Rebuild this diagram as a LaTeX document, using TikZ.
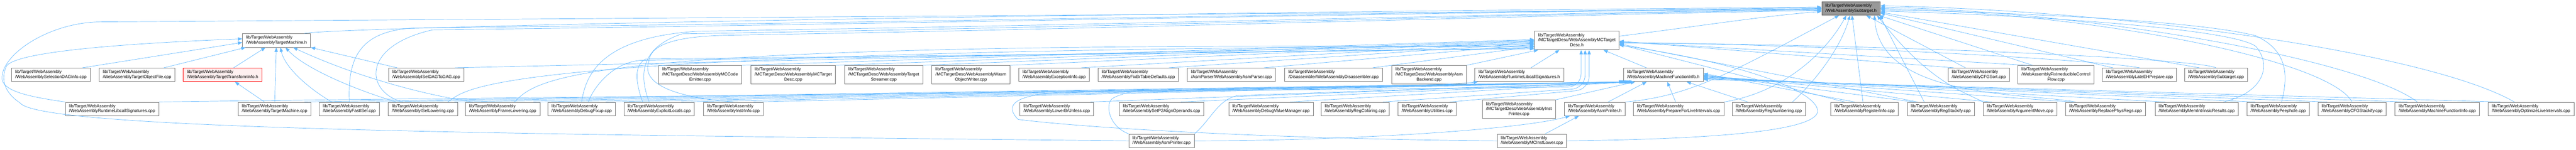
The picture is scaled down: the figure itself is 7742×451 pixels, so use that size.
\documentclass[tikz,border=0pt]{standalone}
\usepackage{fontspec}
\setmainfont{Liberation Sans}
\usepackage{tikz}
\usetikzlibrary{arrows.meta}
\definecolor{edgeblue}{HTML}{63B8FF}
\definecolor{boxgrey}{HTML}{777777}
\definecolor{rootgrey}{HTML}{999999}
\definecolor{cutfill}{HTML}{FFF0F0}
\def\wasmfile#1{\begin{tabular}{@{}l@{}}#1\end{tabular}}
\def\wasmlast#1{\multicolumn{1}{@{}c@{}}{#1}}
\tikzset{
  filebox/.style={draw=boxgrey, line width=1.3pt, fill=white, inner xsep=11pt, inner ysep=5.5pt, font=\fontsize{13}{15}\selectfont},
  rootbox/.style={filebox, draw=black!60, fill=rootgrey},
  cutbox/.style={filebox, draw=red, fill=cutfill},
  incl/.style={draw=edgeblue, line width=1.1pt, -{Triangle[length=13pt,width=10pt]}},
}

\begin{document}
\begin{tikzpicture}[x=1pt,y=1pt]
			%%%%% START %%%%%
			\useasboundingbox (0,0) rectangle (7742,-451);
			
			\node[rootbox] (subh) at (5563,-25.5) {\wasmfile{lib/Target/WebAssembly\\/WebAssemblySubtarget.h}};
			
			\node[filebox] (tmh) at (831,-122) {\wasmfile{lib/Target/WebAssembly\\/WebAssemblyTargetMachine.h}};
			\node[filebox] (mctdh) at (4739,-122) {\wasmfile{lib/Target/WebAssembly\\/MCTargetDesc/WebAssemblyMCTarget\\\wasmlast{Desc.h}}};
			
			\node[filebox] (sdicpp) at (153,-225.5) {\wasmfile{lib/Target/WebAssembly\\/WebAssemblySelectionDAGInfo.cpp}};
			\node[filebox] (tofcpp) at (412,-225.5) {\wasmfile{lib/Target/WebAssembly\\/WebAssemblyTargetObjectFile.cpp}};
			\node[cutbox] (ttih) at (669,-225.5) {\wasmfile{lib/Target/WebAssembly\\/WebAssemblyTargetTransformInfo.h}};
			\node[filebox] (iseldag) at (1281,-225.5) {\wasmfile{lib/Target/WebAssembly\\/WebAssemblyISelDAGToDAG.cpp}};
			\node[filebox] (mccode) at (2104,-225.5) {\wasmfile{lib/Target/WebAssembly\\/MCTargetDesc/WebAssemblyMCCode\\\wasmlast{Emitter.cpp}}};
			\node[filebox] (mctdcpp) at (2384,-225.5) {\wasmfile{lib/Target/WebAssembly\\/MCTargetDesc/WebAssemblyMCTarget\\\wasmlast{Desc.cpp}}};
			\node[filebox] (streamer) at (2656,-225.5) {\wasmfile{lib/Target/WebAssembly\\/MCTargetDesc/WebAssemblyTarget\\\wasmlast{Streamer.cpp}}};
			\node[filebox] (wasmwriter) at (2918,-225.5) {\wasmfile{lib/Target/WebAssembly\\/MCTargetDesc/WebAssemblyWasm\\\wasmlast{ObjectWriter.cpp}}};
			\node[filebox] (excinfo) at (3168,-225.5) {\wasmfile{lib/Target/WebAssembly\\/WebAssemblyExceptionInfo.cpp}};
			\node[filebox] (fixbrtable) at (3421,-225.5) {\wasmfile{lib/Target/WebAssembly\\/WebAssemblyFixBrTableDefaults.cpp}};
			\node[filebox] (asmparser) at (3701,-225.5) {\wasmfile{lib/Target/WebAssembly\\/AsmParser/WebAssemblyAsmParser.cpp}};
			\node[filebox] (disasm) at (4008,-225.5) {\wasmfile{lib/Target/WebAssembly\\/Disassembler/WebAssemblyDisassembler.cpp}};
			\node[filebox] (asmbackend) at (4295,-225.5) {\wasmfile{lib/Target/WebAssembly\\/MCTargetDesc/WebAssemblyAsm\\\wasmlast{Backend.cpp}}};
			\node[filebox] (rlsh) at (4566,-225.5) {\wasmfile{lib/Target/WebAssembly\\/WebAssemblyRuntimeLibcallSignatures.h}};
			\node[filebox] (mfih) at (4999,-225.5) {\wasmfile{lib/Target/WebAssembly\\/WebAssemblyMachineFunctionInfo.h}};
			\node[filebox] (cfgsort) at (5947,-225.5) {\wasmfile{lib/Target/WebAssembly\\/WebAssemblyCFGSort.cpp}};
			\node[filebox] (fixirred) at (6179,-225.5) {\wasmfile{lib/Target/WebAssembly\\/WebAssemblyFixIrreducibleControl\\\wasmlast{Flow.cpp}}};
			\node[filebox] (lateeh) at (6430,-225.5) {\wasmfile{lib/Target/WebAssembly\\/WebAssemblyLateEHPrepare.cpp}};
			\node[filebox] (subcpp) at (6660,-225.5) {\wasmfile{lib/Target/WebAssembly\\/WebAssemblySubtarget.cpp}};
			
			\node[filebox] (rlscpp) at (337,-328.5) {\wasmfile{lib/Target/WebAssembly\\/WebAssemblyRuntimeLibcallSignatures.cpp}};
			\node[filebox] (tmcpp) at (825,-328.5) {\wasmfile{lib/Target/WebAssembly\\/WebAssemblyTargetMachine.cpp}};
			\node[filebox] (fastisel) at (1050,-328.5) {\wasmfile{lib/Target/WebAssembly\\/WebAssemblyFastISel.cpp}};
			\node[filebox] (isellow) at (1271,-328.5) {\wasmfile{lib/Target/WebAssembly\\/WebAssemblyISelLowering.cpp}};
			\node[filebox] (framelow) at (1511,-328.5) {\wasmfile{lib/Target/WebAssembly\\/WebAssemblyFrameLowering.cpp}};
			\node[filebox] (dbgfixup) at (1748,-328.5) {\wasmfile{lib/Target/WebAssembly\\/WebAssemblyDebugFixup.cpp}};
			\node[filebox] (explocals) at (1981,-328.5) {\wasmfile{lib/Target/WebAssembly\\/WebAssemblyExplicitLocals.cpp}};
			\node[filebox] (instrinfo) at (2204,-328.5) {\wasmfile{lib/Target/WebAssembly\\/WebAssemblyInstrInfo.cpp}};
			\node[filebox] (lowerbr) at (3176,-328.5) {\wasmfile{lib/Target/WebAssembly\\/WebAssemblyLowerBrUnless.cpp}};
			\node[filebox] (setp2) at (3491,-328.5) {\wasmfile{lib/Target/WebAssembly\\/WebAssemblySetP2AlignOperands.cpp}};
			\node[filebox] (dbgvalue) at (3820,-328.5) {\wasmfile{lib/Target/WebAssembly\\/WebAssemblyDebugValueManager.cpp}};
			\node[filebox] (regcolor) at (4073,-328.5) {\wasmfile{lib/Target/WebAssembly\\/WebAssemblyRegColoring.cpp}};
			\node[filebox] (utilities) at (4289,-328.5) {\wasmfile{lib/Target/WebAssembly\\/WebAssemblyUtilities.cpp}};
			\node[filebox] (instprinter) at (4565,-329.5) {\wasmfile{lib/Target/WebAssembly\\/MCTargetDesc/WebAssemblyInst\\\wasmlast{Printer.cpp}}};
			\node[filebox] (aph) at (4793,-328.5) {\wasmfile{lib/Target/WebAssembly\\/WebAssemblyAsmPrinter.h}};
			\node[filebox] (prepli) at (5045,-328.5) {\wasmfile{lib/Target/WebAssembly\\/WebAssemblyPrepareForLiveIntervals.cpp}};
			\node[filebox] (regnum) at (5316,-328.5) {\wasmfile{lib/Target/WebAssembly\\/WebAssemblyRegNumbering.cpp}};
			\node[filebox] (reginfo) at (5604,-328.5) {\wasmfile{lib/Target/WebAssembly\\/WebAssemblyRegisterInfo.cpp}};
			\node[filebox] (regstack) at (5833,-328.5) {\wasmfile{lib/Target/WebAssembly\\/WebAssemblyRegStackify.cpp}};
			\node[filebox] (argmove) at (6071,-328.5) {\wasmfile{lib/Target/WebAssembly\\/WebAssemblyArgumentMove.cpp}};
			\node[filebox] (replphys) at (6328,-328.5) {\wasmfile{lib/Target/WebAssembly\\/WebAssemblyReplacePhysRegs.cpp}};
			\node[filebox] (memintr) at (6602,-328.5) {\wasmfile{lib/Target/WebAssembly\\/WebAssemblyMemIntrinsicResults.cpp}};
			\node[filebox] (peephole) at (6847,-328.5) {\wasmfile{lib/Target/WebAssembly\\/WebAssemblyPeephole.cpp}};
			\node[filebox] (cfgstack) at (7069,-328.5) {\wasmfile{lib/Target/WebAssembly\\/WebAssemblyCFGStackify.cpp}};
			\node[filebox] (mficpp) at (7325,-328.5) {\wasmfile{lib/Target/WebAssembly\\/WebAssemblyMachineFunctionInfo.cpp}};
			\node[filebox] (optli) at (7607,-328.5) {\wasmfile{lib/Target/WebAssembly\\/WebAssemblyOptimizeLiveIntervals.cpp}};
			
			\node[filebox] (apcpp) at (3491,-424.5) {\wasmfile{lib/Target/WebAssembly\\/WebAssemblyAsmPrinter.cpp}};
			\node[filebox] (mcinst) at (4604,-424.5) {\wasmfile{lib/Target/WebAssembly\\/WebAssemblyMCInstLower.cpp}};
			
			% target machine header
			\draw[incl] ([xshift=-24pt]sdicpp.north east) -- ([yshift=-6pt]tmh.west);
			\draw[incl] ([xshift=-34pt]tofcpp.north east) -- ([xshift=10pt]tmh.south west);
			\draw[incl] (ttih) -- (tmh);
			\draw[incl] (tmcpp) -- (tmh);
			\draw[incl] ([xshift=-30pt]tmcpp.north) -- ([xshift=37pt]ttih.south);
			\draw[incl] ([xshift=-53pt]fastisel.north) .. controls (920,-262) and (855,-200) .. ([xshift=12pt]tmh.south);
			\draw[incl] ([xshift=-80pt]isellow.north) .. controls (1060,-268) and (915,-205) .. ([xshift=27pt]tmh.south);
			\draw[incl] ([xshift=-90pt]framelow.north) .. controls (1250,-282) and (1050,-222) .. ([xshift=50pt]tmh.south);
			\draw[incl] ([xshift=26pt]iseldag.north west) -- (tmh.south east);
			\draw[incl] (apcpp.west) .. controls (1500,-405) and (120,-390) .. (60,-310) .. controls (15,-280) and (0,-240) .. (20,-198) .. controls (60,-150) and (450,-128) .. ([yshift=5pt]tmh.west);
			
			% subtarget header, from the left
			\draw[incl] (rlscpp.north west) .. controls (90,-292) and (2,-275) .. (6,-232) .. controls (10,-160) and (150,-68) .. (300,-66) .. controls (900,-62) and (3500,-45) .. ([yshift=-2pt]subh.west);
			\draw[incl] ([xshift=-20pt]tmh.north east) .. controls (1000,-82) and (3000,-42) .. ([yshift=4pt]subh.west);
			\draw[incl] (fastisel.north) .. controls (1045,-180) and (1075,-92) .. (1250,-84) .. controls (2500,-72) and (4200,-36) .. ([yshift=2pt]subh.west);
			\draw[incl] ([xshift=-60pt]isellow.north) .. controls (1100,-280) and (1080,-140) .. (1300,-90) .. controls (2500,-76) and (4200,-38) .. (subh.west);
			\draw[incl] (dbgfixup.north) .. controls (1760,-230) and (1800,-112) .. (2100,-94) .. controls (3500,-72) and (4500,-42) .. ([yshift=-2pt]subh.west);
			\draw[incl] ([xshift=-30pt]explocals.north) .. controls (1930,-250) and (1905,-150) .. (2050,-102) .. controls (3500,-78) and (4500,-44) .. ([yshift=-4pt]subh.west);
			\draw[incl] (instrinfo.north) .. controls (1990,-290) and (1930,-240) .. (1950,-185) .. controls (1955,-125) and (2060,-108) .. (2200,-106) .. controls (3500,-84) and (4500,-48) .. ([yshift=-6pt]subh.west);
			\draw[incl] ([yshift=13pt]mctdh.east) .. controls (5100,-80) and (5300,-48) .. ([yshift=-9pt]subh.west);
			
			% subtarget header, from below
			\draw[incl] (aph.north east) .. controls (5080,-290) and (5200,-220) .. ([xshift=-36pt]subh.south);
			\draw[incl] (prepli.north east) .. controls (5350,-280) and (5480,-170) .. ([xshift=-14pt]subh.south);
			\draw[incl] ([xshift=-40pt]regnum.north east) .. controls (5450,-250) and (5530,-150) .. ([xshift=-3pt]subh.south);
			\draw[incl] ([xshift=-5pt]reginfo.north) -- ([xshift=3pt]subh.south);
			\draw[incl] ([xshift=-40pt]cfgsort.north) -- ([xshift=46pt]subh.south);
			\draw[incl] ([xshift=-70pt]fixirred.north) -- ([xshift=-4pt]subh.south east);
			\draw[incl] ([xshift=-50pt]regstack.north) -- ([xshift=-2pt]subh.south east);
			\draw[incl] (argmove.north west) .. controls (5900,-275) and (5800,-250) .. ([xshift=-10pt]subh.south east);
			\draw[incl] ([xshift=-90pt]replphys.north) .. controls (6100,-280) and (5650,-300) .. ([xshift=-18pt]subh.south east);
			
			% subtarget header, from the right
			\draw[incl] ([xshift=-80pt]lateeh.north) -- ([yshift=-14pt]subh.east);
			\draw[incl] ([xshift=-50pt]subcpp.north) -- ([yshift=-11pt]subh.east);
			\draw[incl] ([xshift=80pt]memintr.north) .. controls (6800,-280) and (6830,-200) .. (6780,-140) .. controls (6700,-80) and (6000,-42) .. ([yshift=-8pt]subh.east);
			\draw[incl] ([xshift=10pt]peephole.north) .. controls (6880,-220) and (6870,-150) .. (6780,-108) .. controls (6600,-60) and (6000,-36) .. ([yshift=-4pt]subh.east);
			\draw[incl] (cfgstack.north) .. controls (7000,-180) and (6300,-40) .. (subh.east);
			\draw[incl] ([xshift=-60pt]mficpp.north) .. controls (7100,-180) and (6300,-36) .. ([yshift=4pt]subh.east);
			\draw[incl] ([xshift=-50pt]optli.north) .. controls (7300,-160) and (6400,-32) .. ([yshift=8pt]subh.east);
			
			% mc target desc header
			\draw[incl] (mccode.north east) -- ([yshift=3pt]mctdh.west);
			\draw[incl] (mctdcpp.north east) -- ([yshift=1pt]mctdh.west);
			\draw[incl] (streamer.north east) -- ([yshift=-1pt]mctdh.west);
			\draw[incl] (wasmwriter.north east) -- ([yshift=-3pt]mctdh.west);
			\draw[incl] ([xshift=-25pt]excinfo.north east) -- ([yshift=-5pt]mctdh.west);
			\draw[incl] ([xshift=-30pt]fixbrtable.north east) -- ([yshift=-8pt]mctdh.west);
			\draw[incl] ([xshift=-35pt]asmparser.north east) -- ([yshift=-12pt]mctdh.west);
			\draw[incl] ([xshift=-30pt]disasm.north east) -- ([yshift=-18pt]mctdh.west);
			\draw[incl] (asmbackend.north east) -- ([xshift=12pt]mctdh.south west);
			\draw[incl] ([xshift=-27pt]iseldag.north east) -- ([yshift=-10pt]mctdh.west);
			\draw[incl] ([xshift=-30pt]isellow.north east) .. controls (1410,-265) and (1430,-150) .. ([yshift=-16pt]mctdh.west);
			\draw[incl] ([xshift=-77pt]framelow.north east) .. controls (1620,-230) and (1750,-120) .. ([yshift=-20pt]mctdh.west);
			\draw[incl] ([xshift=20pt]dbgfixup.north) .. controls (1790,-250) and (1850,-188) .. (1925,-182) -- ([yshift=-23pt]mctdh.west);
			\draw[incl] ([xshift=-50pt]explocals.north) .. controls (1915,-260) and (1900,-200) .. (1940,-178) -- ([yshift=-25pt]mctdh.west);
			\draw[incl, rounded corners=40pt] (apcpp.north west) .. controls (3330,-380) and (3320,-310) .. (3380,-276) -- (4752,-262) -- ([xshift=13pt]mctdh.south);
			\draw[incl, rounded corners=40pt] ([xshift=-20pt]regcolor.north east) -- (4764,-266) -- ([xshift=25pt]mctdh.south);
			\draw[incl, rounded corners=40pt] ([xshift=-20pt]utilities.north east) -- (4776,-270) -- ([xshift=37pt]mctdh.south);
			\draw[incl] ([xshift=70pt]mfih.north west) -- ([xshift=-48pt]mctdh.south east);
			\draw[incl] ([xshift=35pt]rlsh.north) -- ([xshift=-52pt]mctdh.south);
			\draw[incl] ([xshift=-75pt]cfgsort.north) -- ([yshift=-2pt]mctdh.east);
			\draw[incl] ([xshift=-85pt]fixirred.north) -- ([yshift=-4pt]mctdh.east);
			\draw[incl] (lateeh.north) .. controls (6300,-180) and (5500,-135) .. ([yshift=-6pt]mctdh.east);
			\draw[incl] (subcpp.north) .. controls (6600,-175) and (5600,-132) .. ([yshift=-8pt]mctdh.east);
			\draw[incl] ([xshift=-70pt]regstack.north) -- ([yshift=-10pt]mctdh.east);
			\draw[incl] ([xshift=-60pt]reginfo.north) -- ([yshift=-12pt]mctdh.east);
			\draw[incl] (mcinst.east) .. controls (5100,-420) and (5440,-400) .. (5462,-340) .. controls (5475,-290) and (5300,-200) .. ([yshift=-14pt]mctdh.east);
			
			% machine function info header
			\draw[incl] ([xshift=-20pt]tmcpp.north east) -- (mfih.south west);
			\draw[incl] ([xshift=-10pt]fastisel.north east) -- ([xshift=3pt]mfih.south west);
			\draw[incl] ([xshift=-10pt]isellow.north east) -- ([xshift=6pt]mfih.south west);
			\draw[incl] ([xshift=-20pt]framelow.north east) -- ([xshift=9pt]mfih.south west);
			\draw[incl] ([xshift=-30pt]dbgfixup.north east) -- ([xshift=12pt]mfih.south west);
			\draw[incl] ([xshift=-40pt]explocals.north east) -- ([xshift=15pt]mfih.south west);
			\draw[incl] ([xshift=-30pt]instrinfo.north east) -- ([xshift=18pt]mfih.south west);
			\draw[incl] ([xshift=-10pt]lowerbr.north east) -- ([xshift=21pt]mfih.south west);
			\draw[incl] ([xshift=-70pt]setp2.north east) -- ([xshift=24pt]mfih.south west);
			\draw[incl] ([xshift=-70pt]dbgvalue.north east) -- ([xshift=27pt]mfih.south west);
			\draw[incl] (apcpp.north east) .. controls (3640,-360) and (3660,-300) .. (3720,-288) -- ([xshift=30pt]mfih.south west);
			\draw[incl] (mcinst.west) .. controls (3900,-420) and (3300,-390) .. (3060,-360) .. controls (3020,-320) and (3040,-285) .. (3200,-278) -- ([xshift=33pt]mfih.south west);
			\draw[incl] (instprinter.north east) -- ([xshift=36pt]mfih.south west);
			\draw[incl] ([xshift=40pt]aph.north) -- ([xshift=-50pt]mfih.south);
			\draw[incl] ([xshift=-9pt]prepli.north) -- ([xshift=12pt]mfih.south);
			\draw[incl] ([xshift=-63pt]regnum.north) -- ([xshift=70pt]mfih.south);
			\draw[incl] ([xshift=-30pt]reginfo.north) -- ([yshift=4pt]mfih.east);
			\draw[incl] ([xshift=-80pt]regstack.north) -- (mfih.east);
			\draw[incl] ([xshift=-85pt]argmove.north) -- ([yshift=-2pt]mfih.east);
			\draw[incl] ([xshift=-100pt]replphys.north) -- ([yshift=-4pt]mfih.east);
			\draw[incl] ([xshift=-95pt]memintr.north) -- ([yshift=-6pt]mfih.east);
			\draw[incl] ([xshift=-70pt]peephole.north) -- ([yshift=-8pt]mfih.east);
			\draw[incl] ([xshift=-75pt]cfgstack.north) -- ([yshift=-10pt]mfih.east);
			\draw[incl] ([xshift=-90pt]mficpp.north) -- ([yshift=-12pt]mfih.east);
			\draw[incl] ([xshift=-93pt]optli.north) -- ([yshift=-14pt]mfih.east);
			
			% runtime libcall header and asm printer header
			\draw[incl] (rlscpp.north east) .. controls (1500,-292) and (4200,-275) .. ([xshift=10pt]rlsh.south west);
			\draw[incl] (apcpp.east) .. controls (4000,-425) and (4550,-395) .. ([xshift=-75pt]aph.south);
			\draw[incl] ([xshift=40pt]mcinst.north) -- ([xshift=-48pt]aph.south);
			
			%%%%% END %%%%%
\end{tikzpicture}
\end{document}
